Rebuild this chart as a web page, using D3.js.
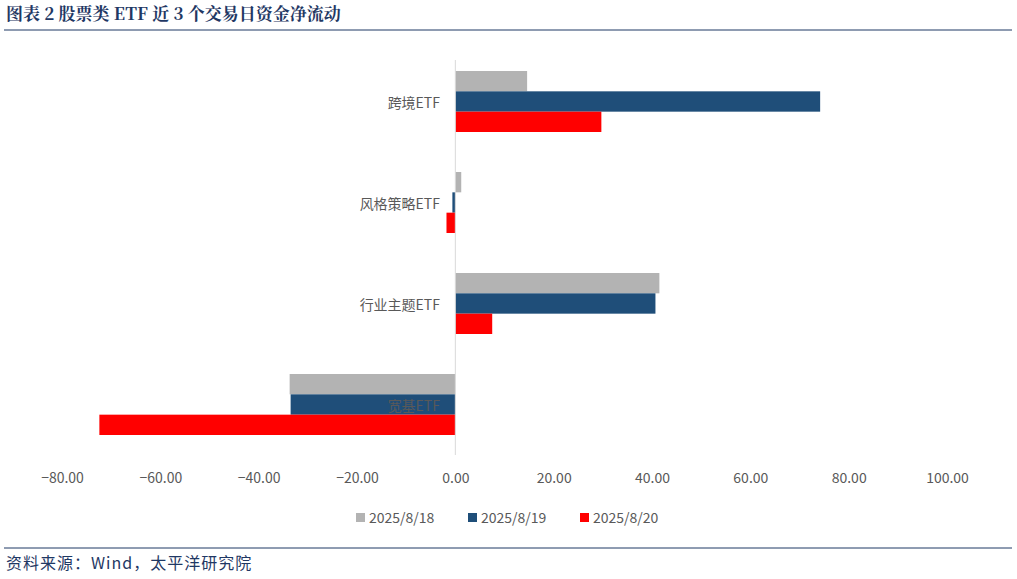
<!DOCTYPE html>
<html><head><meta charset="utf-8">
<script src="https://cdn.jsdelivr.net/npm/d3@7"></script>
<style>body{margin:0;background:#fff}</style>
</head><body><svg id="c" width="1017" height="579"></svg>
<script>
const categories = ['跨境ETF', '风格策略ETF', '行业主题ETF', '宽基ETF'];
const seriesNames = ['2025/8/18', '2025/8/19', '2025/8/20'];
const d0818 = [14.6, 1.2, 41.5, -33.7];
const d0819 = [74.2, -0.6, 40.7, -33.5];
const d0820 = [29.7, -1.8, 7.5, -72.4];
const xTicks = [-80, -60, -40, -20, 0, 20, 40, 60, 80, 100];
const colors = ['#b3b3b3', '#1f4e79', '#ff0000'];

const svg = d3.select('#c');
const font = '"Noto Sans CJK SC", "Noto Sans", sans-serif';

// title + rules
svg.append('text').attr('x', 6).attr('y', 20).attr('font-family', '"Noto Serif CJK SC","Noto Sans CJK SC",serif')
  .attr('font-weight', 'bold').attr('font-size', 17).attr('fill', '#1f3864')
  .text('图表 2  股票类 ETF 近 3 个交易日资金净流动');
svg.append('line').attr('x1', 4).attr('x2', 1012).attr('y1', 30).attr('y2', 30).attr('stroke', '#1f3864').attr('stroke-width', 1);
svg.append('line').attr('x1', 4).attr('x2', 1012).attr('y1', 548).attr('y2', 548).attr('stroke', '#1f3864').attr('stroke-width', 1);
svg.append('text').attr('x', 6).attr('y', 569).attr('font-family', font).attr('font-size', 16)
  .attr('fill', '#1f3864').attr('letter-spacing', 1).text('资料来源：Wind，太平洋研究院');

const x = d3.scaleLinear().domain([-80, 100]).range([62, 947]);
const y = d3.scaleBand().domain(categories).range([51, 455]);
const inner = d3.scaleBand().domain(seriesNames).range([20, y.bandwidth() - 20]);

const series = [d0818, d0819, d0820];
series.forEach((vals, si) => {
  svg.append('g').selectAll('rect').data(vals).join('rect')
    .attr('x', d => x(Math.min(0, d)))
    .attr('width', d => Math.abs(x(d) - x(0)))
    .attr('y', (d, i) => y(categories[i]) + inner(seriesNames[si]))
    .attr('height', inner.bandwidth())
    .attr('fill', colors[si]);
});

// zero line
svg.append('line').attr('x1', x(0)).attr('x2', x(0)).attr('y1', 60).attr('y2', 455).attr('stroke', '#d9d9d9');

// category labels
svg.append('g').selectAll('text').data(categories).join('text')
  .attr('x', 440).attr('y', d => y(d) + y.bandwidth() / 2 + 6)
  .attr('text-anchor', 'end').attr('font-family', font).attr('font-size', 14).attr('fill', '#595959')
  .text(d => d);

// x axis
const ax = svg.append('g').attr('transform', 'translate(0,470)')
  .call(d3.axisBottom(x).tickValues(xTicks).tickFormat(d3.format('.2f')).tickSize(0));
ax.select('.domain').remove();
ax.selectAll('text').attr('font-family', font).attr('font-size', 14).attr('fill', '#595959').attr('dy', 10);

// legend
const lx = [356, 468, 580];
const lg = svg.append('g').selectAll('g').data(seriesNames).join('g')
  .attr('transform', (d, i) => `translate(${lx[i]},518)`);
lg.append('rect').attr('x', 0).attr('y', -5).attr('width', 9).attr('height', 9).attr('fill', (d, i) => colors[i]);
lg.append('text').attr('x', 13).attr('y', 5).attr('font-family', font).attr('font-size', 14).attr('fill', '#595959').text(d => d);
</script></body></html>
